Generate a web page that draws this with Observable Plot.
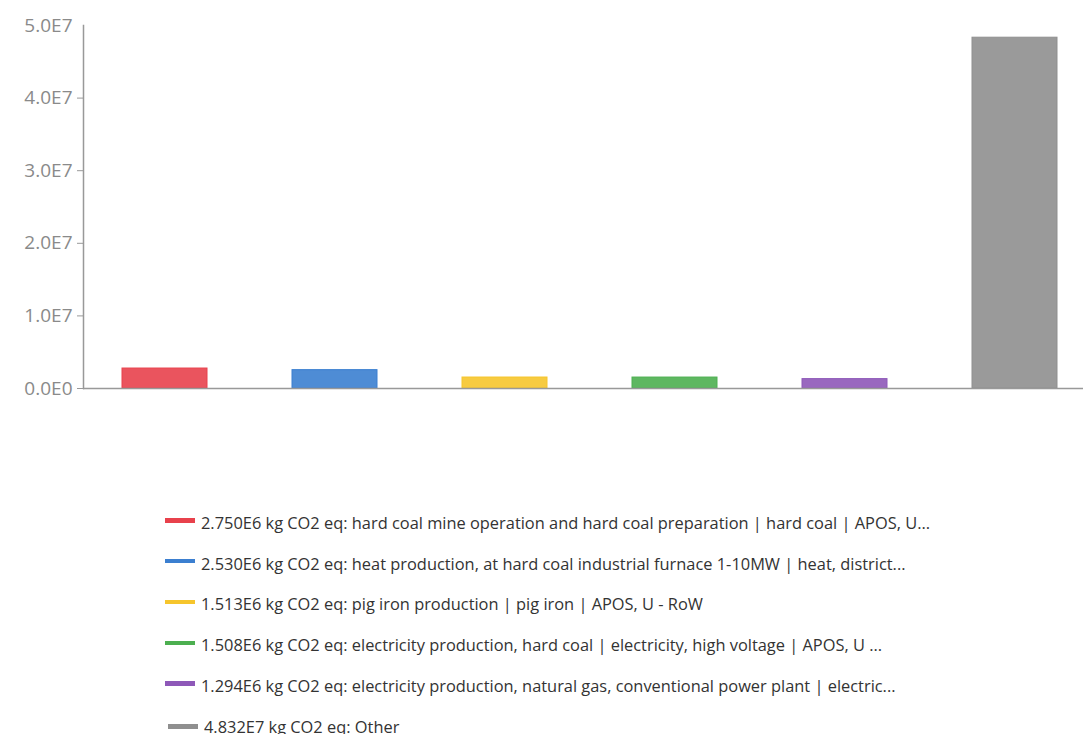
<!DOCTYPE html>
<html>
<head>
<meta charset="utf-8">
<script src="https://cdn.jsdelivr.net/npm/d3@7"></script>
<script src="https://cdn.jsdelivr.net/npm/@observablehq/plot@0.6"></script>
<style>
  body { margin: 0; background: #fff; font-family: "Open Sans", "Noto Sans", sans-serif; overflow: hidden; }
  #legend { position: absolute; left: 165px; top: 502px; }
  .item { display: flex; align-items: center; height: 40.8px; font-size: 16.4px; color: #333; white-space: nowrap; }
  .sw { width: 30px; height: 4.5px; margin-right: 6px; margin-top: -4px; }
</style>
</head>
<body>
<div id="chart"></div>
<div id="legend"></div>
<script>
const categories = ["hard coal mine operation", "heat production", "pig iron production", "electricity production, hard coal", "electricity production, natural gas", "Other"];
const values = [2.750e6, 2.530e6, 1.513e6, 1.508e6, 1.294e6, 4.832e7];
const labels = [
  "2.750E6 kg CO2 eq: hard coal mine operation and hard coal preparation | hard coal | APOS, U...",
  "2.530E6 kg CO2 eq: heat production, at hard coal industrial furnace 1-10MW | heat, district...",
  "1.513E6 kg CO2 eq: pig iron production | pig iron | APOS, U - RoW",
  "1.508E6 kg CO2 eq: electricity production, hard coal | electricity, high voltage | APOS, U ...",
  "1.294E6 kg CO2 eq: electricity production, natural gas, conventional power plant | electric...",
  "4.832E7 kg CO2 eq: Other"
];
const colors = ["#e8414c", "#3b7fd0", "#f6c52c", "#4caf50", "#8e58b8", "#8f8f8f"];
const tickValues = [0, 1e7, 2e7, 3e7, 4e7, 5e7];
const tickLabels = ["0.0E0", "1.0E7", "2.0E7", "3.0E7", "4.0E7", "5.0E7"];

const data = categories.map((c, i) => ({cat: c, value: values[i], color: colors[i]}));

const W = 1083, H = 410;
const chart = Plot.plot({
  width: W,
  height: H,
  marginLeft: 83,
  marginRight: 0,
  marginTop: 25,
  marginBottom: 22,
  style: {fontFamily: "'Open Sans', 'Noto Sans', sans-serif", background: "#fff"},
  x: {type: "band", domain: categories, range: [120, 1059], paddingInner: 0.5, paddingOuter: 0, axis: null},
  y: {domain: [0, 5e7], axis: null},
  marks: [
    Plot.barY(data, {x: "cat", y: "value", fill: "color", fillOpacity: 0.9, stroke: "color", strokeWidth: 1}),
    Plot.axisY({ticks: tickValues.slice(0, 5), tickSize: 6, tickFormat: () => "", stroke: "#999", label: null}),
    Plot.axisY({ticks: tickValues, tickSize: 0, tickPadding: 11, tickFormat: (d) => tickLabels[tickValues.indexOf(d)], fill: "#8a8a8a", fontSize: 19, label: null}),
    Plot.frame({anchor: "left", stroke: "#999", strokeWidth: 1.5}),
    Plot.ruleY([0], {stroke: "#999", strokeWidth: 1.5})
  ]
});
document.getElementById("chart").appendChild(chart);

const legend = document.getElementById("legend");
labels.forEach((t, i) => {
  const row = document.createElement("div");
  row.className = "item";
  const sw = document.createElement("span");
  sw.className = "sw";
  sw.style.background = colors[i];
  if (i === labels.length - 1) { sw.style.marginLeft = "3px"; sw.style.marginTop = "0px"; }
  const tx = document.createElement("span");
  tx.textContent = t;
  row.appendChild(sw);
  row.appendChild(tx);
  legend.appendChild(row);
});
</script>
</body>
</html>
